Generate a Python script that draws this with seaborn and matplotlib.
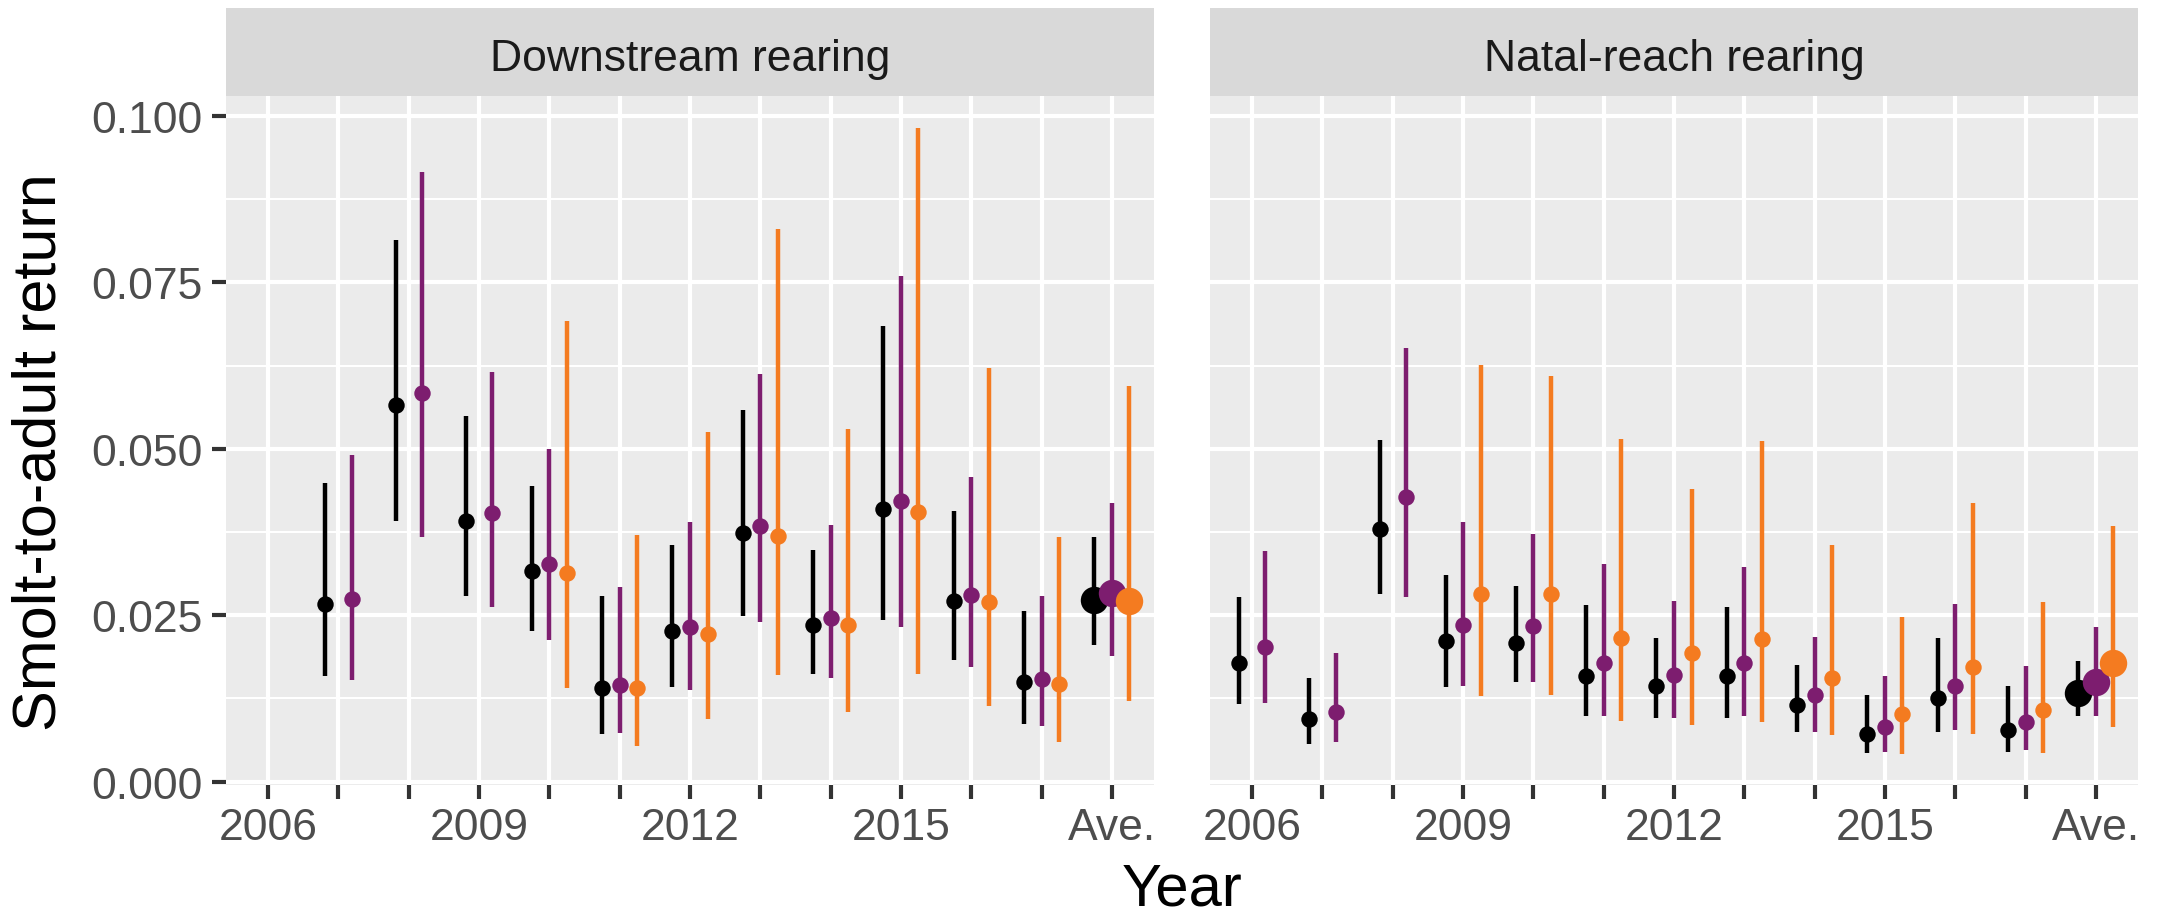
import numpy as np
import pandas as pd
import matplotlib
matplotlib.use("Agg")
import matplotlib.pyplot as plt
import seaborn as sns
from matplotlib.ticker import MultipleLocator, FormatStrFormatter

nan = np.nan

years = ['2006', '2007', '2008', '2009', '2010', '2011', '2012',
         '2013', '2014', '2015', '2016', '2017', 'Ave.']
shown_labels = ['2006', '2009', '2012', '2015', 'Ave.']
panels = ['Downstream rearing', 'Natal-reach rearing']
series = ['Model 1', 'Model 2', 'Model 3']
colours = {'Model 1': '#000000', 'Model 2': '#7D1D6F', 'Model 3': '#F47B20'}

# Downstream rearing
ds_m1_est = [nan, 0.0267, 0.0566, 0.0391, 0.0316, 0.0140, 0.0226, 0.0373, 0.0236, 0.0409, 0.0272, 0.0149, 0.0273]
ds_m1_lo = [nan, 0.0158, 0.0392, 0.0279, 0.0227, 0.0072, 0.0142, 0.0249, 0.0162, 0.0243, 0.0183, 0.0087, 0.0205]
ds_m1_hi = [nan, 0.0449, 0.0813, 0.0550, 0.0444, 0.0279, 0.0355, 0.0558, 0.0348, 0.0684, 0.0407, 0.0256, 0.0367]
ds_m2_est = [nan, 0.0275, 0.0584, 0.0403, 0.0327, 0.0145, 0.0233, 0.0384, 0.0246, 0.0422, 0.0281, 0.0154, 0.0284]
ds_m2_lo = [nan, 0.0153, 0.0367, 0.0262, 0.0213, 0.0073, 0.0138, 0.0240, 0.0156, 0.0233, 0.0172, 0.0084, 0.0189]
ds_m2_hi = [nan, 0.0491, 0.0916, 0.0616, 0.0499, 0.0292, 0.0390, 0.0613, 0.0385, 0.0760, 0.0457, 0.0279, 0.0418]
ds_m3_est = [nan, nan, nan, nan, 0.0314, 0.0140, 0.0222, 0.0369, 0.0235, 0.0405, 0.0270, 0.0146, 0.0272]
ds_m3_lo = [nan, nan, nan, nan, 0.0140, 0.0054, 0.0094, 0.0160, 0.0104, 0.0162, 0.0113, 0.0059, 0.0121]
ds_m3_hi = [nan, nan, nan, nan, 0.0692, 0.0371, 0.0525, 0.0830, 0.0530, 0.0982, 0.0621, 0.0367, 0.0595]

# Natal-reach rearing
nr_m1_est = [0.0179, 0.0094, 0.0380, 0.0211, 0.0209, 0.0158, 0.0144, 0.0158, 0.0115, 0.0072, 0.0126, 0.0078, 0.0133]
nr_m1_lo = [0.0116, 0.0057, 0.0282, 0.0142, 0.0149, 0.0098, 0.0096, 0.0096, 0.0075, 0.0043, 0.0075, 0.0045, 0.0099]
nr_m1_hi = [0.0277, 0.0156, 0.0513, 0.0311, 0.0294, 0.0265, 0.0216, 0.0262, 0.0176, 0.0130, 0.0216, 0.0143, 0.0181]
nr_m2_est = [0.0202, 0.0105, 0.0427, 0.0236, 0.0234, 0.0179, 0.0160, 0.0178, 0.0130, 0.0082, 0.0143, 0.0089, 0.0150]
nr_m2_lo = [0.0118, 0.0059, 0.0277, 0.0144, 0.0149, 0.0099, 0.0096, 0.0098, 0.0075, 0.0045, 0.0078, 0.0047, 0.0098]
nr_m2_hi = [0.0346, 0.0193, 0.0652, 0.0390, 0.0372, 0.0327, 0.0272, 0.0323, 0.0218, 0.0159, 0.0267, 0.0174, 0.0233]
nr_m3_est = [nan, nan, nan, 0.0282, 0.0282, 0.0216, 0.0194, 0.0215, 0.0155, 0.0101, 0.0172, 0.0108, 0.0179]
nr_m3_lo = [nan, nan, nan, 0.0128, 0.0130, 0.0091, 0.0085, 0.0089, 0.0070, 0.0041, 0.0071, 0.0043, 0.0082]
nr_m3_hi = [nan, nan, nan, 0.0626, 0.0609, 0.0515, 0.0440, 0.0512, 0.0355, 0.0248, 0.0419, 0.0270, 0.0384]

blocks = {
    panels[0]: [(ds_m1_est, ds_m1_lo, ds_m1_hi), (ds_m2_est, ds_m2_lo, ds_m2_hi), (ds_m3_est, ds_m3_lo, ds_m3_hi)],
    panels[1]: [(nr_m1_est, nr_m1_lo, nr_m1_hi), (nr_m2_est, nr_m2_lo, nr_m2_hi), (nr_m3_est, nr_m3_lo, nr_m3_hi)],
}

rows = []
for panel in panels:
    for s, (est, lo, hi) in zip(series, blocks[panel]):
        for i, yr in enumerate(years):
            if not np.isnan(est[i]):
                rows.append(dict(panel=panel, year=yr, pos=i, series=s,
                                 est=est[i], lo=lo[i], hi=hi[i]))
df = pd.DataFrame(rows)

# ggplot-like position_dodge(width=0.75)
DODGE = 0.75
df['n'] = df.groupby(['panel', 'year'])['est'].transform('size')
df['k'] = df.groupby(['panel', 'year']).cumcount()
df['x'] = df['pos'] + (df['k'] - (df['n'] - 1) / 2) * DODGE / df['n']

sns.set_theme(style='darkgrid', rc={
    'axes.facecolor': '#EBEBEB',
    'grid.color': 'white',
    'axes.edgecolor': 'none',
})
plt.rcParams['font.family'] = ['Liberation Sans', 'DejaVu Sans']

W, H = 2165, 920
fig = plt.figure(figsize=(W / 100, H / 100), dpi=100)

panel_left = [226, 1210]
panel_w = 928
panel_top, panel_bot = 97, 786
strip_top = 9

for j, panel in enumerate(panels):
    ax = fig.add_axes([panel_left[j] / W, (H - panel_bot) / H,
                       panel_w / W, (panel_bot - panel_top) / H])
    sub = df[df['panel'] == panel]
    for s in series:
        ss = sub[sub['series'] == s]
        ax.vlines(ss['x'], ss['lo'], ss['hi'], colors=colours[s],
                  linewidth=3.2, zorder=3)
        reg = ss[ss['year'] != 'Ave.']
        ave = ss[ss['year'] == 'Ave.']
        sns.scatterplot(data=reg, x='x', y='est', color=colours[s], s=140,
                        linewidth=0, legend=False, ax=ax, zorder=4)
        sns.scatterplot(data=ave, x='x', y='est', color=colours[s], s=390,
                        linewidth=0, legend=False, ax=ax, zorder=4)

    ax.set_xlim(-0.6, len(years) - 0.4)
    ax.set_ylim(-0.0005, 0.103)
    ax.set_xticks(range(len(years)))
    ax.set_xticklabels([y if y in shown_labels else '' for y in years])
    ax.yaxis.set_major_locator(MultipleLocator(0.025))
    ax.yaxis.set_minor_locator(MultipleLocator(0.0125))
    ax.yaxis.set_major_formatter(FormatStrFormatter('%.3f'))
    ax.grid(which='major', axis='both', color='white', linewidth=3.0)
    ax.grid(which='minor', axis='y', color='white', linewidth=1.5)
    ax.set_axisbelow(True)
    ax.set_xlabel('')
    ax.set_ylabel('')
    for sp in ax.spines.values():
        sp.set_visible(False)
    ax.tick_params(axis='x', which='major', bottom=True, length=10, width=3.0,
                   color='#333333', labelsize=32, labelcolor='#4D4D4D', pad=6)
    ax.tick_params(axis='y', which='minor', left=False)
    if j == 0:
        ax.tick_params(axis='y', which='major', left=True, length=10, width=3.0,
                       color='#333333', labelsize=32, labelcolor='#4D4D4D', pad=7)
    else:
        ax.tick_params(axis='y', which='major', left=False, labelleft=False)

    # facet strip
    sax = fig.add_axes([panel_left[j] / W, (H - panel_top) / H,
                        panel_w / W, (panel_top - strip_top) / H])
    sax.set_facecolor('#D9D9D9')
    sax.set_xticks([])
    sax.set_yticks([])
    sax.grid(False)
    for sp in sax.spines.values():
        sp.set_visible(False)
    sax.text(0.5, 0.29, panel, ha='center', va='baseline', fontsize=32,
             color='#1A1A1A', transform=sax.transAxes)

fig.text(40 / W, (H - 452) / H, 'Smolt-to-adult return', rotation=90,
         ha='center', va='center', fontsize=44, color='black')
fig.text(1182 / W, 2 / H, 'Year', ha='center', va='bottom',
         fontsize=43, color='black')

fig.savefig('out.png', dpi=100)
